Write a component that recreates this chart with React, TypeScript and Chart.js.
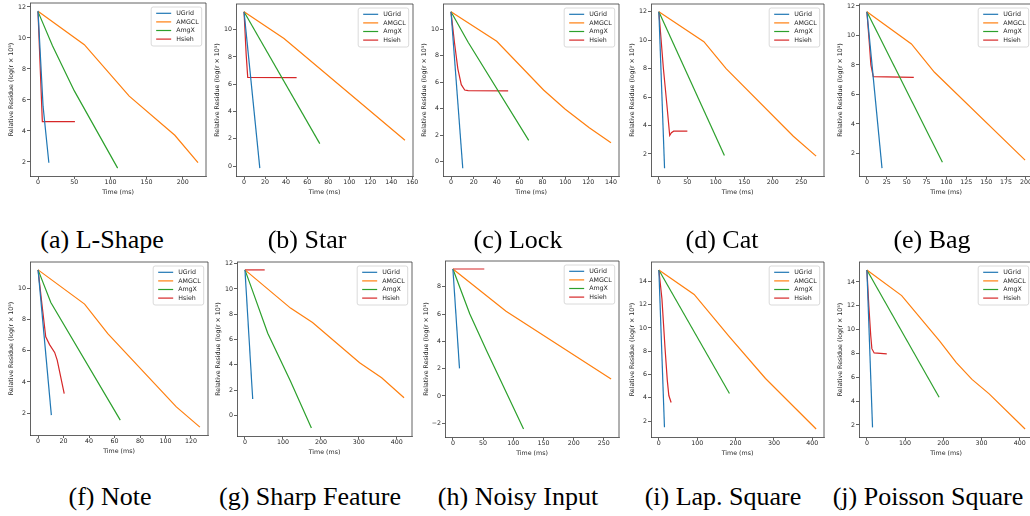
import React, { useEffect, useRef } from 'react';
import { Chart, registerables } from 'chart.js';
Chart.register(...registerables);

// ---------- series meta ----------
const seriesNames = ['UGrid', 'AMGCL', 'AmgX', 'Hsieh'];
const seriesColors = ['#1f77b4', '#ff7f0e', '#2ca02c', '#d62728'];

// ---------- (a) L-Shape ----------
const lshapeUGrid = [[0, 11.75], [7, 5.6], [15, 1.95]];
const lshapeAMGCL = [[0, 11.72], [64, 9.57], [126, 6.25], [189, 3.72], [221, 1.95]];
const lshapeAmgX = [[0, 11.7], [20, 9.5], [50, 6.6], [110, 1.6]];
const lshapeHsieh = [[0, 11.7], [6, 4.6], [51, 4.6]];
const lshapeXTicks = [0, 50, 100, 150, 200];
const lshapeYTicks = [2, 4, 6, 8, 10, 12];

// ---------- (b) Star ----------
const starUGrid = [[0, 11.3], [15, -0.15]];
const starAMGCL = [[0, 11.3], [38, 9.35], [153, 1.9]];
const starAmgX = [[0, 11.3], [72, 1.65]];
const starHsieh = [[0, 11.3], [2, 8.2], [3.5, 6.5], [50, 6.48]];
const starXTicks = [0, 20, 40, 60, 80, 100, 120, 140, 160];
const starYTicks = [0, 2, 4, 6, 8, 10];

// ---------- (c) Lock ----------
const lockUGrid = [[0, 11.3], [10.3, -0.5]];
const lockAMGCL = [[0, 11.3], [40, 9.08], [81, 5.4], [100, 3.95], [121, 2.55], [140, 1.42]];
const lockAmgX = [[0, 11.3], [15, 9.0], [68, 1.6]];
const lockHsieh = [[0, 11.3], [3, 9], [6, 7], [9, 5.8], [12, 5.4], [15, 5.35], [50, 5.33]];
const lockXTicks = [0, 20, 40, 60, 80, 100, 120, 140];
const lockYTicks = [0, 2, 4, 6, 8, 10];

// ---------- (d) Cat ----------
const catUGrid = [[0, 12], [10, 1.0]];
const catAMGCL = [[0, 12], [79, 9.9], [118, 8.0], [236, 3.25], [276, 1.85]];
const catAmgX = [[0, 12], [115, 1.9]];
const catHsieh = [[0, 12], [8, 8], [14, 5.5], [19, 3.3], [22, 3.5], [26, 3.6], [50, 3.6]];
const catXTicks = [0, 50, 100, 150, 200, 250];
const catYTicks = [2, 4, 6, 8, 10, 12];

// ---------- (e) Bag ----------
const bagUGrid = [[0, 11.6], [19, 1.0]];
const bagAMGCL = [[0, 11.6], [56, 9.42], [85, 7.5], [199, 1.55]];
const bagAmgX = [[0, 11.6], [95, 1.4]];
const bagHsieh = [[0, 11.6], [3, 9.5], [5, 8], [8, 7.2], [59, 7.15]];
const bagXTicks = [0, 25, 50, 75, 100, 125, 150, 175, 200];
const bagYTicks = [2, 4, 6, 8, 10, 12];

// ---------- (f) Note ----------
const noteUGrid = [[0, 11.2], [10.4, 1.87]];
const noteAMGCL = [[0, 11.2], [36.5, 9.0], [54.7, 7.1], [108.5, 2.4], [127, 1.1]];
const noteAmgX = [[0, 11.2], [10, 9.1], [64.5, 1.55]];
const noteHsieh = [[0, 11.2], [3, 9], [6, 6.9], [9, 6.4], [13, 5.9], [15, 5.4], [20.5, 3.25]];
const noteXTicks = [0, 20, 40, 60, 80, 100, 120];
const noteYTicks = [2, 4, 6, 8, 10];

// ---------- (g) Sharp Feature ----------
const sharpUGrid = [[0, 11.5], [20.4, 1.3]];
const sharpAMGCL = [[0, 11.5], [120, 8.48], [178, 7.35], [302, 4.17], [360, 2.98], [419, 1.4]];
const sharpAmgX = [[0, 11.5], [17, 10.1], [60, 6.5], [120, 2.7], [175, -1.0]];
const sharpHsieh = [[0, 11.5], [52, 11.5]];
const sharpXTicks = [0, 100, 200, 300, 400];
const sharpYTicks = [0, 2, 4, 6, 8, 10, 12];

// ---------- (h) Noisy Input ----------
const noisyUGrid = [[0, 9.3], [10.9, 2.02]];
const noisyAMGCL = [[0, 9.3], [88, 6.2], [262, 1.25]];
const noisyAmgX = [[0, 9.3], [28, 6.0], [56, 3.3], [117, -2.42]];
const noisyHsieh = [[0, 9.3], [52, 9.3]];
const noisyXTicks = [0, 50, 100, 150, 200, 250];
const noisyYTicks = [-2, 0, 2, 4, 6, 8];

// ---------- (i) Lap. Square ----------
const lapUGrid = [[0, 14.98], [14.6, 1.48]];
const lapAMGCL = [[0, 14.98], [92, 12.88], [183, 9.27], [278, 5.66], [410, 1.32]];
const lapAmgX = [[0, 14.98], [184, 4.37]];
const lapHsieh = [[0, 14.98], [8, 12.5], [16, 8.3], [22, 5.5], [26, 4.2], [32, 3.6]];
const lapXTicks = [0, 100, 200, 300, 400];
const lapYTicks = [2, 4, 6, 8, 10, 12, 14];

// ---------- (j) Poisson Square ----------
const poissonUGrid = [[0, 15], [14.7, 1.8]];
const poissonAMGCL = [[0, 15], [91, 12.85], [190.5, 9.03], [234, 7.23], [275, 5.82], [320, 4.61], [414, 1.66]];
const poissonAmgX = [[0, 15], [189, 4.33]];
const poissonHsieh = [[0, 15], [5, 12], [10, 9.5], [13, 8.4], [19, 8.04], [52, 7.96]];
const poissonXTicks = [0, 100, 200, 300, 400];
const poissonYTicks = [2, 4, 6, 8, 10, 12, 14];

const captions = ['(a) L-Shape', '(b) Star', '(c) Lock', '(d) Cat', '(e) Bag',
  '(f) Note', '(g) Sharp Feature', '(h) Noisy Input', '(i) Lap. Square', '(j) Poisson Square'];

// ---------- layout (not data) ----------
const YW = 30;   // y-axis band width
const XH = 22;   // x-axis band height
const PT = 6;    // top pad
const PR = 12;   // right pad
const FS = 6.3;  // small font
const FONT = '"DejaVu Sans", sans-serif';
const TXT = '#262626';
const SPINE = '#3a3a3a';

const panels = [
  { series: [lshapeUGrid, lshapeAMGCL, lshapeAmgX, lshapeHsieh], xt: lshapeXTicks, yt: lshapeYTicks, box: [30, 3, 206, 176], cap: [102, 240] },
  { series: [starUGrid, starAMGCL, starAmgX, starHsieh], xt: starXTicks, yt: starYTicks, box: [236, 4, 413, 176], cap: [307, 240] },
  { series: [lockUGrid, lockAMGCL, lockAmgX, lockHsieh], xt: lockXTicks, yt: lockYTicks, box: [443, 4, 619, 176], cap: [518, 240] },
  { series: [catUGrid, catAMGCL, catAmgX, catHsieh], xt: catXTicks, yt: catYTicks, box: [651, 4, 824, 176], cap: [722, 240] },
  { series: [bagUGrid, bagAMGCL, bagAmgX, bagHsieh], xt: bagXTicks, yt: bagYTicks, box: [859, 4, 1033, 176], cap: [932, 240] },
  { series: [noteUGrid, noteAMGCL, noteAmgX, noteHsieh], xt: noteXTicks, yt: noteYTicks, box: [30, 262, 208, 435], cap: [110, 497] },
  { series: [sharpUGrid, sharpAMGCL, sharpAmgX, sharpHsieh], xt: sharpXTicks, yt: sharpYTicks, box: [237, 262, 412, 436], cap: [310, 497] },
  { series: [noisyUGrid, noisyAMGCL, noisyAmgX, noisyHsieh], xt: noisyXTicks, yt: noisyYTicks, box: [445, 261, 619, 437], cap: [518, 497] },
  { series: [lapUGrid, lapAMGCL, lapAmgX, lapHsieh], xt: lapXTicks, yt: lapYTicks, box: [651, 262, 824, 437], cap: [723, 497] },
  { series: [poissonUGrid, poissonAMGCL, poissonAmgX, poissonHsieh], xt: poissonXTicks, yt: poissonYTicks, box: [859, 262, 1033, 437], cap: [928, 497] },
];

const fmt = (v: number) => (v < 0 ? '\u2212' + Math.abs(v) : String(v));

const framePlugin = {
  id: 'frameLegend',
  afterDraw(chart: any) {
    const ctx = chart.ctx;
    const ca = chart.chartArea;
    ctx.save();
    // top & right spines
    ctx.strokeStyle = SPINE;
    ctx.lineWidth = 0.8;
    ctx.beginPath();
    ctx.moveTo(ca.left, ca.top);
    ctx.lineTo(ca.right, ca.top);
    ctx.lineTo(ca.right, ca.bottom);
    ctx.stroke();
    // legend
    ctx.font = `${FS}px ${FONT}`;
    const tw = Math.max(...seriesNames.map((n) => ctx.measureText(n).width));
    const w = tw + 28;
    const h = 39;
    const x = ca.right - 4.3 - w;
    const y = ca.top + 4;
    ctx.beginPath();
    const r = 2;
    ctx.moveTo(x + r, y);
    ctx.arcTo(x + w, y, x + w, y + h, r);
    ctx.arcTo(x + w, y + h, x, y + h, r);
    ctx.arcTo(x, y + h, x, y, r);
    ctx.arcTo(x, y, x + w, y, r);
    ctx.closePath();
    ctx.fillStyle = 'rgba(255,255,255,0.8)';
    ctx.fill();
    ctx.strokeStyle = '#d0d0d0';
    ctx.lineWidth = 0.8;
    ctx.stroke();
    seriesNames.forEach((n, i) => {
      const cy = y + 6.3 + i * 8.6;
      ctx.strokeStyle = seriesColors[i];
      ctx.lineWidth = 1.2;
      ctx.beginPath();
      ctx.moveTo(x + 5, cy);
      ctx.lineTo(x + 20, cy);
      ctx.stroke();
      ctx.fillStyle = TXT;
      ctx.textBaseline = 'middle';
      ctx.textAlign = 'left';
      ctx.fillText(n, x + 25, cy);
    });
    ctx.restore();
  },
};

function Panel({ p }: { p: any }) {
  const ref = useRef<HTMLCanvasElement>(null);
  const [l, t, r, b] = p.box;
  const W = r - l + YW + PR;
  const H = b - t + PT + XH;
  useEffect(() => {
    const xs: number[] = [];
    const ys: number[] = [];
    p.series.forEach((s: number[][]) => s.forEach(([x, y]) => { xs.push(x); ys.push(y); }));
    const x0 = Math.min(...xs), x1 = Math.max(...xs);
    const y0 = Math.min(...ys), y1 = Math.max(...ys);
    const mx = (x1 - x0) * 0.05, my = (y1 - y0) * 0.05;
    const tickFont = { family: FONT, size: FS };
    const chart = new Chart(ref.current as HTMLCanvasElement, {
      type: 'line',
      data: {
        datasets: p.series.map((s: number[][], i: number) => ({
          label: seriesNames[i],
          data: s.map(([x, y]) => ({ x, y })),
          borderColor: seriesColors[i],
          backgroundColor: seriesColors[i],
          borderWidth: 1.2,
          pointRadius: 0,
          tension: 0,
          fill: false,
        })),
      },
      options: {
        animation: false,
        responsive: false,
        maintainAspectRatio: false,
        layout: { padding: { top: PT, right: PR, left: 0, bottom: 0 } },
        plugins: { legend: { display: false }, tooltip: { enabled: false } },
        scales: {
          x: {
            type: 'linear',
            min: x0 - mx,
            max: x1 + mx,
            afterFit(s: any) { s.height = XH; s.paddingLeft = 0; s.paddingRight = 0; },
            afterBuildTicks(s: any) { s.ticks = p.xt.filter((v: number) => v >= s.min && v <= s.max).map((v: number) => ({ value: v })); },
            ticks: { font: tickFont, color: TXT, padding: 0, maxRotation: 0, autoSkip: false, callback: (v: any) => fmt(Number(v)) },
            grid: { drawOnChartArea: false, drawTicks: true, tickLength: 3, color: SPINE, lineWidth: 0.8 },
            border: { display: true, color: SPINE, width: 0.8 },
            title: { display: true, text: 'Time (ms)', font: tickFont, color: TXT, padding: { top: 0, bottom: 2.2 } },
          },
          y: {
            type: 'linear',
            min: y0 - my,
            max: y1 + my,
            afterFit(s: any) { s.width = YW; s.paddingTop = 0; s.paddingBottom = 0; },
            afterBuildTicks(s: any) { s.ticks = p.yt.filter((v: number) => v >= s.min && v <= s.max).map((v: number) => ({ value: v })); },
            ticks: { font: tickFont, color: TXT, padding: 1, autoSkip: false, callback: (v: any) => fmt(Number(v)) },
            grid: { drawOnChartArea: false, drawTicks: true, tickLength: 3, color: SPINE, lineWidth: 0.8 },
            border: { display: true, color: SPINE, width: 0.8 },
            title: { display: true, text: 'Relative Residue (log(r \u00d7 10\u2075)', font: tickFont, color: TXT, padding: { top: 7.5, bottom: 0 } },
          },
        },
      } as any,
      plugins: [framePlugin],
    });
    return () => chart.destroy();
  }, []);
  return (
    <canvas
      ref={ref}
      width={W}
      height={H}
      style={{ position: 'absolute', left: l - YW, top: t - PT, width: W, height: H }}
    />
  );
}

export default function App() {
  return (
    <div style={{ position: 'fixed', left: 0, top: 0, width: 1030, height: 516, overflow: 'hidden', background: '#fff' }}>
      {panels.map((p, i) => (
        <Panel key={i} p={p} />
      ))}
      {panels.map((p, i) => (
        <div
          key={'c' + i}
          style={{
            position: 'absolute',
            left: p.cap[0] - 130,
            top: p.cap[1] - 16,
            width: 260,
            height: 32,
            lineHeight: '32px',
            textAlign: 'center',
            fontFamily: '"Liberation Serif", "Times New Roman", serif',
            fontSize: 26,
            color: '#000',
            whiteSpace: 'nowrap',
          }}
        >
          {captions[i]}
        </div>
      ))}
    </div>
  );
}
